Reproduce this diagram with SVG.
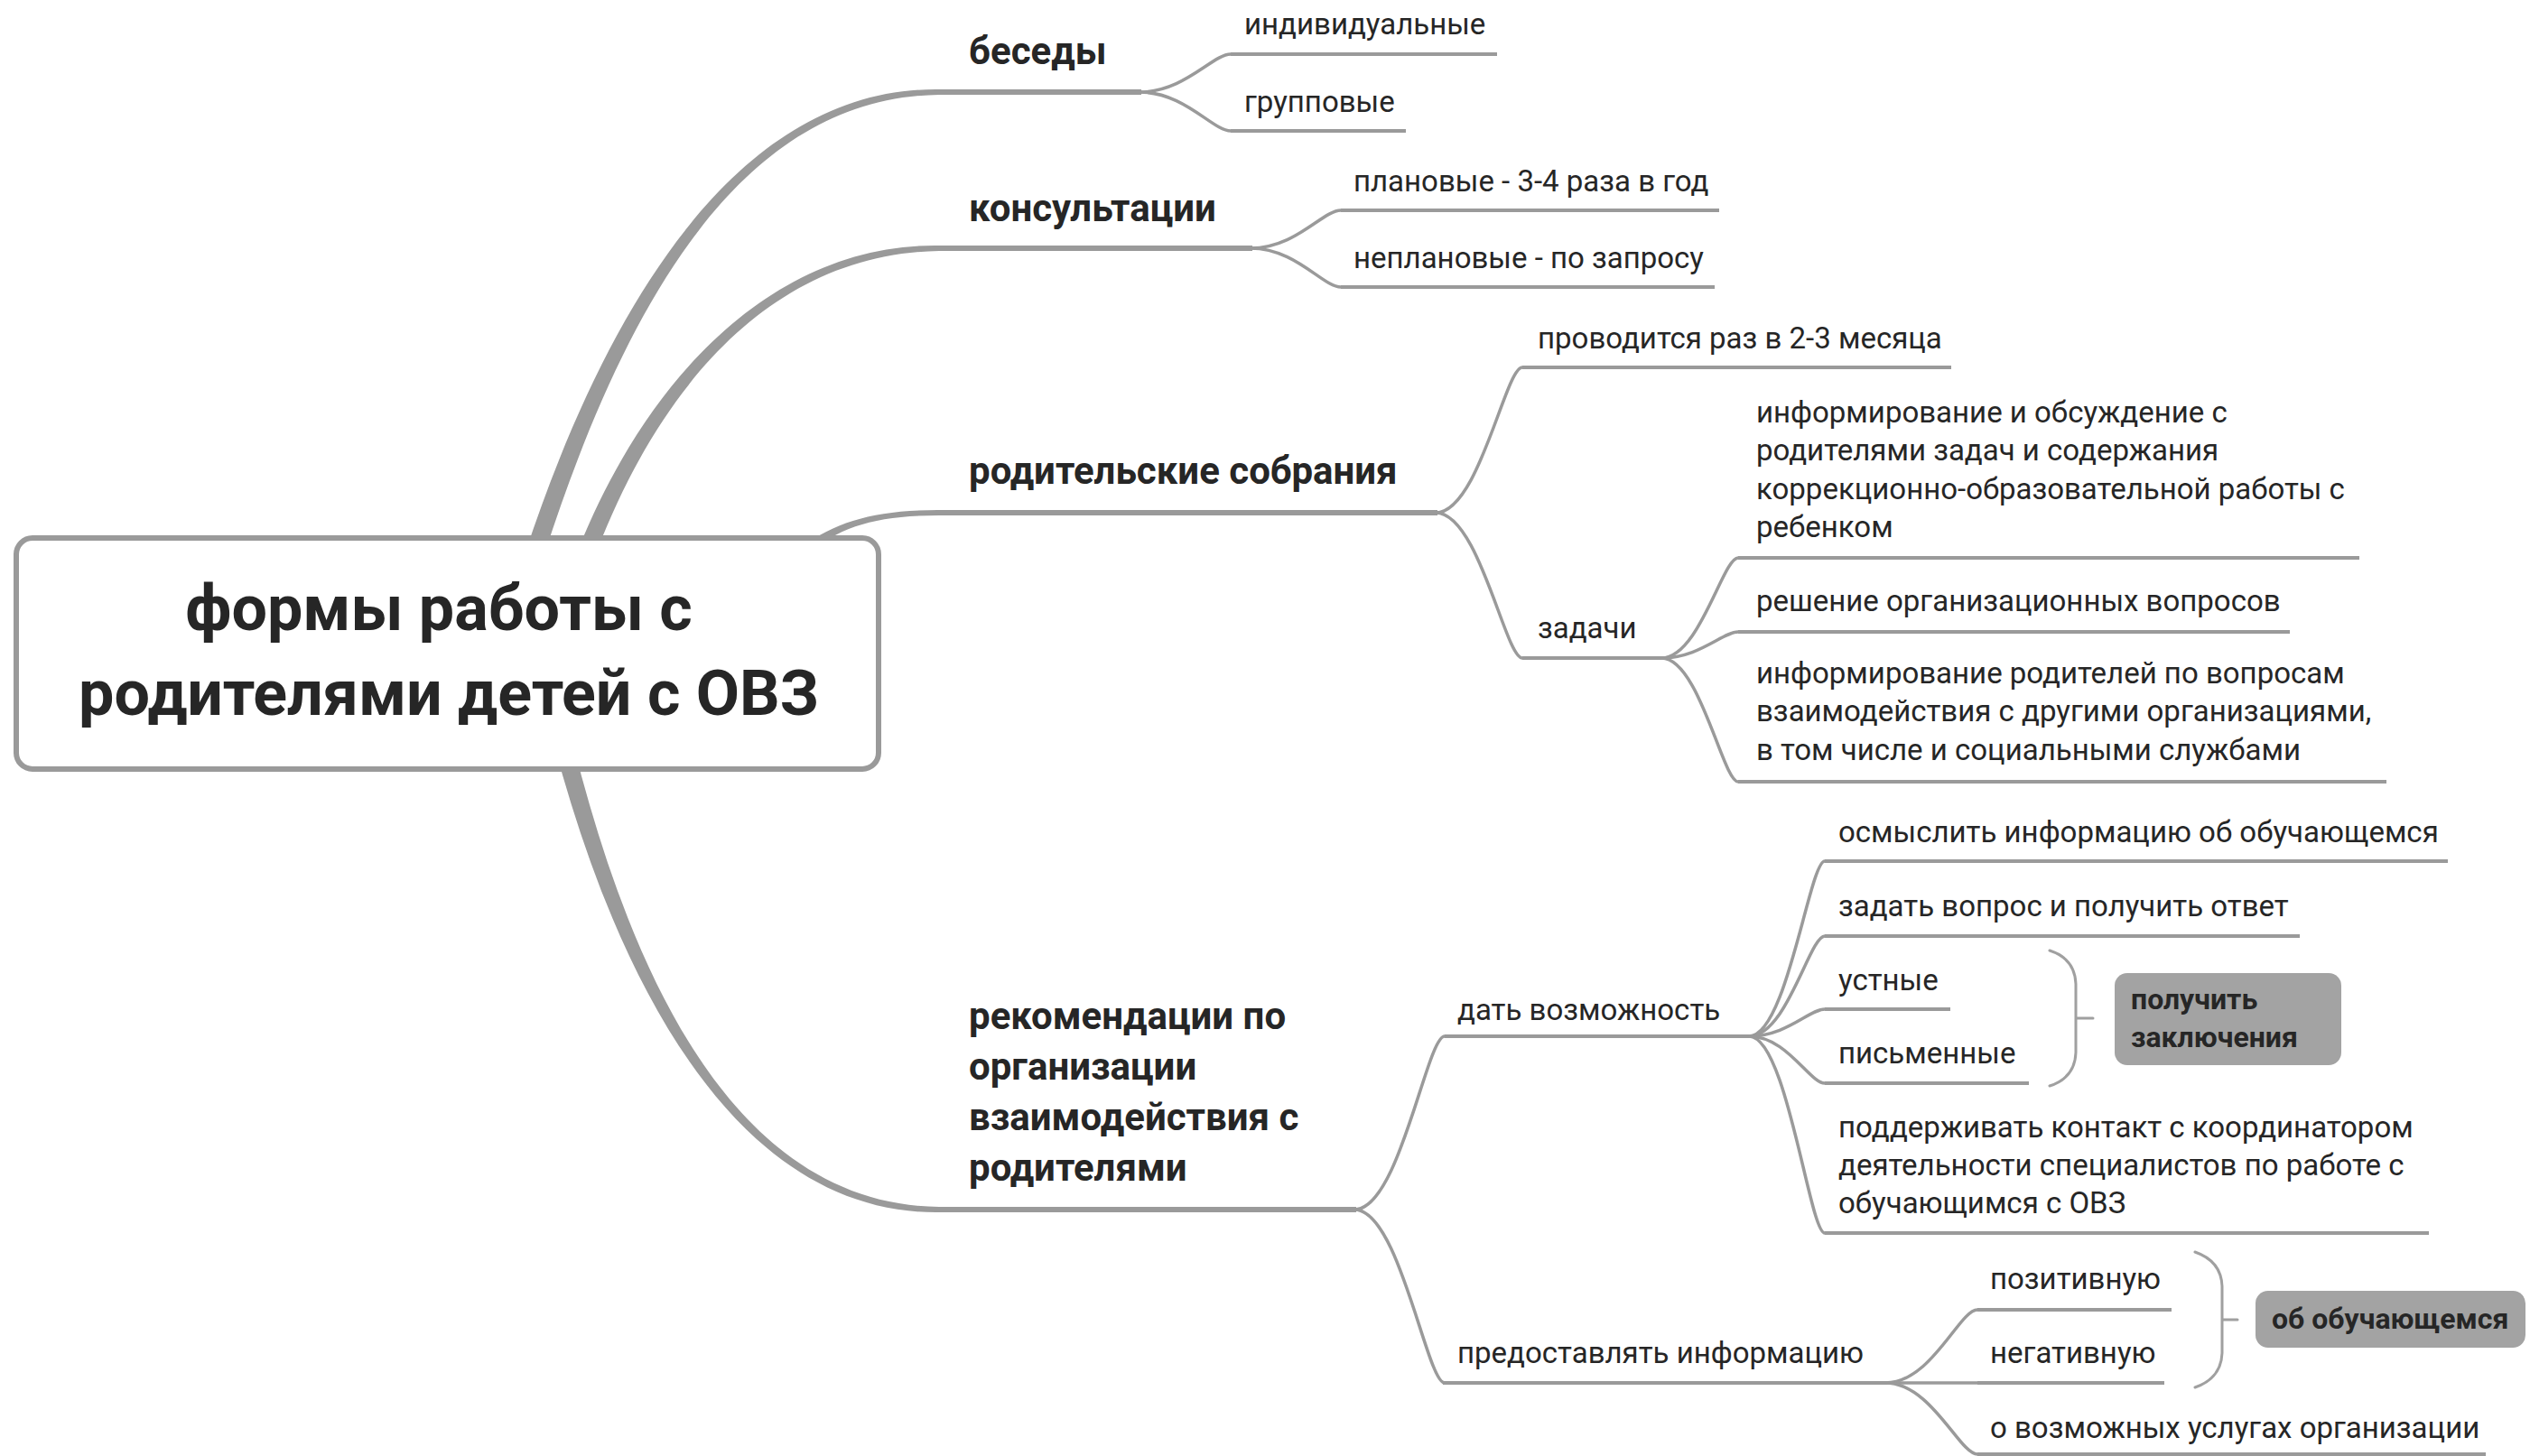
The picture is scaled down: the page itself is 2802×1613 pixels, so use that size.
<svg xmlns="http://www.w3.org/2000/svg" width="2802" height="1613" viewBox="0 0 2802 1613">
<style>
  text{font-family:Roboto,"Noto Sans","Liberation Sans",sans-serif;fill:#262626}
  .root{font-size:70px;font-weight:700;text-anchor:middle}
  .l1{font-size:42px;font-weight:700}
  .t{font-size:33px}
  .tb{font-size:32px;font-weight:700}
  .ul1{stroke:#9a9a9a;stroke-width:6;fill:none}
  .ul{stroke:#9a9a9a;stroke-width:4;fill:none}
  .trunk{fill:#9a9a9a}
  .fork{stroke:#9a9a9a;stroke-width:3.5;fill:none;stroke-linecap:round}
  .brace{stroke:#a0a0a0;stroke-width:3;fill:none;stroke-linecap:round}
  .tag{fill:#a3a3a3}
  .box{fill:#fff;stroke:#9a9a9a;stroke-width:6}
</style>
<rect width="2802" height="1613" fill="#fff"/>

<g id="connectors">
  <!-- tapered trunks from the central topic -->
  <path class="trunk" d="M549,720 C644,378 800,96 1040,99 L1040,105 C800,108 666,382 571,720 Z"/>
  <path class="trunk" d="M604,720 C669,468 830,269 1040,272 L1040,278 C830,281 691,472 626,720 Z"/>
  <path class="trunk" d="M887,606 C928,577 970,565 1040,565 L1040,571 C970,571 932,583 893,614 Z"/>
  <path class="trunk" d="M589,720 C647,1000 780,1346 1040,1343 L1040,1337 C780,1334 669,1000 611,720 Z"/>

  <!-- беседы -->
  <path class="fork" d="M1262,102 C1312,102 1343,60 1363,60"/>
  <path class="fork" d="M1262,102 C1312,102 1343,145 1363,145"/>
  <!-- консультации -->
  <path class="fork" d="M1385,275 C1435,275 1465,233 1485,233"/>
  <path class="fork" d="M1385,275 C1435,275 1465,318 1485,318"/>
  <!-- родительские собрания -->
  <path class="fork" d="M1590,568 C1638,568 1667,407 1686,407"/>
  <path class="fork" d="M1590,568 C1638,568 1667,729 1686,729"/>
  <!-- задачи -->
  <path class="fork" d="M1840,729 C1882,729 1908,618 1925,618"/>
  <path class="fork" d="M1840,729 C1882,729 1908,700 1925,700"/>
  <path class="fork" d="M1840,729 C1882,729 1908,866 1925,866"/>
  <!-- рекомендации -->
  <path class="fork" d="M1500,1340 C1550,1340 1580,1148 1600,1148"/>
  <path class="fork" d="M1500,1340 C1550,1340 1580,1532 1600,1532"/>
  <!-- дать возможность -->
  <path class="fork" d="M1937,1148 C1979,1148 2004,954 2021,954"/>
  <path class="fork" d="M1937,1148 C1979,1148 2004,1037 2021,1037"/>
  <path class="fork" d="M1937,1148 C1979,1148 2004,1118 2021,1118"/>
  <path class="fork" d="M1937,1148 C1979,1148 2004,1200 2021,1200"/>
  <path class="fork" d="M1937,1148 C1979,1148 2004,1366 2021,1366"/>
  <!-- предоставлять информацию -->
  <path class="fork" d="M2088,1532 C2139,1532 2170,1451 2190,1451"/>
  <path class="fork" d="M2088,1532 L2190,1532"/>
  <path class="fork" d="M2088,1532 C2139,1532 2170,1611 2190,1611"/>

  <!-- summary braces -->
  <path class="brace" d="M2270,1053 Q2298,1062 2299,1090 L2299,1166 Q2298,1194 2270,1203 M2299,1128 H2318"/>
  <path class="brace" d="M2431,1387 Q2460,1397 2461,1425 L2461,1499 Q2460,1527 2431,1537 M2461,1462 H2478"/>
</g>

<g id="root">
  <rect class="box" x="18" y="596" width="955" height="256" rx="18"/>
  <text class="root" x="486" y="698">формы работы с</text>
  <text class="root" x="497" y="792">родителями детей с ОВЗ</text>
</g>

<g id="n-besedy">
  <line class="ul1" x1="1036" y1="102" x2="1264" y2="102"/>
  <text class="l1" x="1073" y="71">беседы</text>
</g>
<g id="n-individ">
  <line class="ul" x1="1363" y1="60" x2="1658" y2="60"/>
  <text class="t" x="1378" y="38">индивидуальные</text>
</g>
<g id="n-group">
  <line class="ul" x1="1363" y1="145" x2="1557" y2="145"/>
  <text class="t" x="1378" y="124">групповые</text>
</g>

<g id="n-konsult">
  <line class="ul1" x1="1036" y1="275" x2="1387" y2="275"/>
  <text class="l1" x="1073" y="245">консультации</text>
</g>
<g id="n-plan">
  <line class="ul" x1="1485" y1="233" x2="1904" y2="233"/>
  <text class="t" x="1499" y="212">плановые - 3-4 раза в год</text>
</g>
<g id="n-neplan">
  <line class="ul" x1="1485" y1="318" x2="1899" y2="318"/>
  <text class="t" x="1499" y="297">неплановые - по запросу</text>
</g>

<g id="n-sobr">
  <line class="ul1" x1="1036" y1="568" x2="1592" y2="568"/>
  <text class="l1" x="1073" y="536">родительские собрания</text>
</g>
<g id="n-period">
  <line class="ul" x1="1686" y1="407" x2="2161" y2="407"/>
  <text class="t" x="1703" y="386">проводится раз в 2-3 месяца</text>
</g>
<g id="n-zadachi">
  <line class="ul" x1="1686" y1="729" x2="1842" y2="729"/>
  <text class="t" x="1703" y="707">задачи</text>
</g>
<g id="n-inform1">
  <line class="ul" x1="1925" y1="618" x2="2613" y2="618"/>
  <text class="t" x="1945" y="468">информирование и обсуждение с</text>
  <text class="t" x="1945" y="510">родителями задач и содержания</text>
  <text class="t" x="1945" y="553">коррекционно-образовательной работы с</text>
  <text class="t" x="1945" y="595">ребенком</text>
</g>
<g id="n-resh">
  <line class="ul" x1="1925" y1="700" x2="2536" y2="700"/>
  <text class="t" x="1945" y="677">решение организационных вопросов</text>
</g>
<g id="n-inform2">
  <line class="ul" x1="1925" y1="866" x2="2643" y2="866"/>
  <text class="t" x="1945" y="757">информирование родителей по вопросам</text>
  <text class="t" x="1945" y="799">взаимодействия с другими организациями,</text>
  <text class="t" x="1945" y="842">в том числе и социальными службами</text>
</g>

<g id="n-rekom">
  <line class="ul1" x1="1036" y1="1340" x2="1502" y2="1340"/>
  <text class="l1" x="1073" y="1140">рекомендации по</text>
  <text class="l1" x="1073" y="1196">организации</text>
  <text class="l1" x="1073" y="1252">взаимодействия с</text>
  <text class="l1" x="1073" y="1308">родителями</text>
</g>
<g id="n-dat">
  <line class="ul" x1="1600" y1="1148" x2="1939" y2="1148"/>
  <text class="t" x="1614" y="1130">дать возможность</text>
</g>
<g id="n-osm">
  <line class="ul" x1="2021" y1="954" x2="2711" y2="954"/>
  <text class="t" x="2036" y="933">осмыслить информацию об обучающемся</text>
</g>
<g id="n-vopr">
  <line class="ul" x1="2021" y1="1037" x2="2547" y2="1037"/>
  <text class="t" x="2036" y="1015">задать вопрос и получить ответ</text>
</g>
<g id="n-ustn">
  <line class="ul" x1="2021" y1="1118" x2="2160" y2="1118"/>
  <text class="t" x="2036" y="1097">устные</text>
</g>
<g id="n-pism">
  <line class="ul" x1="2021" y1="1200" x2="2247" y2="1200"/>
  <text class="t" x="2036" y="1178">письменные</text>
</g>
<g id="n-zakl">
  <rect class="tag" x="2342" y="1078" width="251" height="102" rx="14"/>
  <text class="tb" x="2360" y="1118">получить</text>
  <text class="tb" x="2360" y="1160">заключения</text>
</g>
<g id="n-kontakt">
  <line class="ul" x1="2021" y1="1366" x2="2690" y2="1366"/>
  <text class="t" x="2036" y="1260">поддерживать контакт с координатором</text>
  <text class="t" x="2036" y="1302">деятельности специалистов по работе с</text>
  <text class="t" x="2036" y="1344">обучающимся с ОВЗ</text>
</g>

<g id="n-predost">
  <line class="ul" x1="1598" y1="1532" x2="2090" y2="1532"/>
  <text class="t" x="1614" y="1510">предоставлять информацию</text>
</g>
<g id="n-pozit">
  <line class="ul" x1="2190" y1="1451" x2="2405" y2="1451"/>
  <text class="t" x="2204" y="1428">позитивную</text>
</g>
<g id="n-negat">
  <line class="ul" x1="2190" y1="1532" x2="2397" y2="1532"/>
  <text class="t" x="2204" y="1510">негативную</text>
</g>
<g id="n-uslugi">
  <line class="ul" x1="2190" y1="1611" x2="2753" y2="1611"/>
  <text class="t" x="2204" y="1593">о возможных услугах организации</text>
</g>
<g id="n-obuch">
  <rect class="tag" x="2498" y="1430" width="299" height="63" rx="14"/>
  <text class="tb" x="2516" y="1472">об обучающемся</text>
</g>
</svg>
